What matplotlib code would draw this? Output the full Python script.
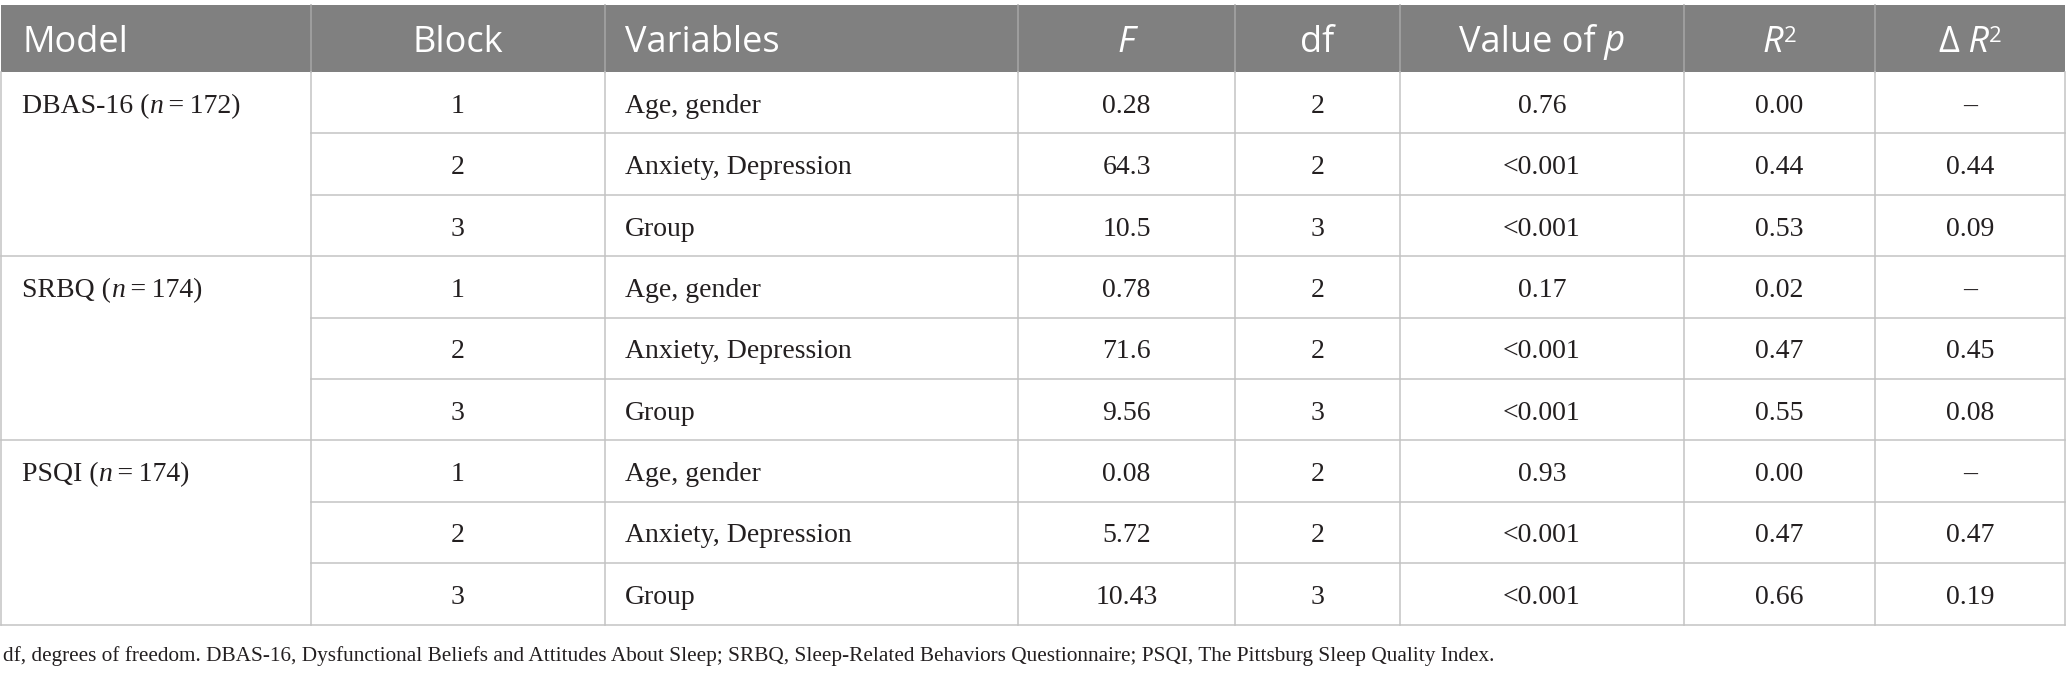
import matplotlib
matplotlib.use("Agg")
import matplotlib.pyplot as plt

# table content
models = ["DBAS-16", "SRBQ", "PSQI"]
model_n = ["172", "174", "174"]
blocks = ["1", "2", "3", "1", "2", "3", "1", "2", "3"]
variables = ["Age, gender", "Anxiety, Depression", "Group",
             "Age, gender", "Anxiety, Depression", "Group",
             "Age, gender", "Anxiety, Depression", "Group"]
f_vals = ["0.28", "64.3", "10.5", "0.78", "71.6", "9.56", "0.08", "5.72", "10.43"]
df_vals = ["2", "2", "3", "2", "2", "3", "2", "2", "3"]
p_vals = ["0.76", "<0.001", "<0.001", "0.17", "<0.001", "<0.001", "0.93", "<0.001", "<0.001"]
r2_vals = ["0.00", "0.44", "0.53", "0.02", "0.47", "0.55", "0.00", "0.47", "0.66"]
dr2_vals = ["\u2013", "0.44", "0.09", "\u2013", "0.45", "0.08", "\u2013", "0.47", "0.19"]
footnote = ("df, degrees of freedom. DBAS-16, Dysfunctional Beliefs and Attitudes About Sleep; "
            "SRBQ, Sleep-Related Behaviors Questionnaire; PSQI, The Pittsburg Sleep Quality Index.")

W, H = 2067, 677
col_x = [1, 311, 605, 1018, 1235, 1400, 1684, 1875, 2065]
head_top, head_bot = 5, 72
row_h = 61.4
n_rows = len(blocks)

HEAD_FONT = "Open Sans"
BODY_FONT = "Liberation Serif"
HEAD_SIZE = 26
BODY_SIZE = 20
NOTE_SIZE = 15.3
HEAD_BG = "#808080"
LINE_C = "#c3c3c3"
TEXT_C = "#231f20"

fig = plt.figure(figsize=(W / 100, H / 100), dpi=100)
ax = fig.add_axes([0, 0, 1, 1])
ax.set_xlim(0, W)
ax.set_ylim(H, 0)
ax.axis("off")
renderer = fig.canvas.get_renderer()


def draw_segments(x, y, segs, align="left", color=TEXT_C):
    # segs: list of (text, family, size, style, rise)
    arts = []
    widths = []
    for txt, fam, size, style, rise in segs:
        t = ax.text(0, y - rise, txt, family=fam, fontsize=size, style=style,
                    color=color, ha="left", va="baseline")
        arts.append(t)
        widths.append(t.get_window_extent(renderer).width)
    total = sum(widths)
    start = x if align == "left" else x - total / 2
    for t, w in zip(arts, widths):
        t.set_x(start)
        start += w


def head(txt, style="normal", rise=0, size=HEAD_SIZE):
    return (txt, HEAD_FONT, size, style, rise)


def body(txt, style="normal"):
    return (txt, BODY_FONT, BODY_SIZE, style, 0)


# header band
ax.add_patch(plt.Rectangle((col_x[0], head_top), col_x[-1] - col_x[0], head_bot - head_top,
                           facecolor=HEAD_BG, edgecolor="none"))
for cx in col_x[1:-1]:
    ax.plot([cx, cx], [head_top, head_bot], color="#a6a6a6", lw=1.1)

head_base = (head_top + head_bot) / 2 + 13
centers = [(col_x[i] + col_x[i + 1]) / 2 for i in range(len(col_x) - 1)]
draw_segments(22, head_base, [head("Model")], color="white")
draw_segments(centers[1], head_base, [head("Block")], "center", "white")
draw_segments(625, head_base, [head("Variables")], color="white")
draw_segments(centers[3], head_base, [head("F", "italic")], "center", "white")
draw_segments(centers[4], head_base, [head("df")], "center", "white")
draw_segments(centers[5], head_base, [head("Value of"), head(" p", "italic")], "center", "white")
draw_segments(centers[6], head_base, [head("R", "italic"), head("2", rise=10, size=16)],
              "center", "white")
draw_segments(centers[7], head_base, [head("\u0394"), head(" R", "italic"), head("2", rise=10, size=16)],
              "center", "white")

# grid lines
table_bot = head_bot + n_rows * row_h
for i in range(1, n_rows):
    y = head_bot + i * row_h
    x0 = col_x[0] if i % 3 == 0 else col_x[1]
    ax.plot([x0, col_x[-1]], [y, y], color=LINE_C, lw=1.1)
ax.plot([col_x[0], col_x[-1]], [table_bot, table_bot], color=LINE_C, lw=1.1)
for cx in col_x:
    ax.plot([cx, cx], [head_bot, table_bot], color=LINE_C, lw=1.1)

# body cells
for i in range(n_rows):
    yb = head_bot + (i + 0.5) * row_h + 10
    if i % 3 == 0:
        g = i // 3
        draw_segments(22, yb, [body(models[g] + " ("), body("n", "italic"),
                               body("\u2009=\u2009" + model_n[g] + ")")])
    draw_segments(centers[1], yb, [body(blocks[i])], "center")
    draw_segments(625, yb, [body(variables[i])])
    draw_segments(centers[3], yb, [body(f_vals[i])], "center")
    draw_segments(centers[4], yb, [body(df_vals[i])], "center")
    draw_segments(centers[5], yb, [body(p_vals[i])], "center")
    draw_segments(centers[6], yb, [body(r2_vals[i])], "center")
    draw_segments(centers[7], yb, [body(dr2_vals[i])], "center")

ax.text(3, 661, footnote, family=BODY_FONT, fontsize=NOTE_SIZE, color=TEXT_C,
        ha="left", va="baseline")

fig.savefig("out.png", dpi=100)
